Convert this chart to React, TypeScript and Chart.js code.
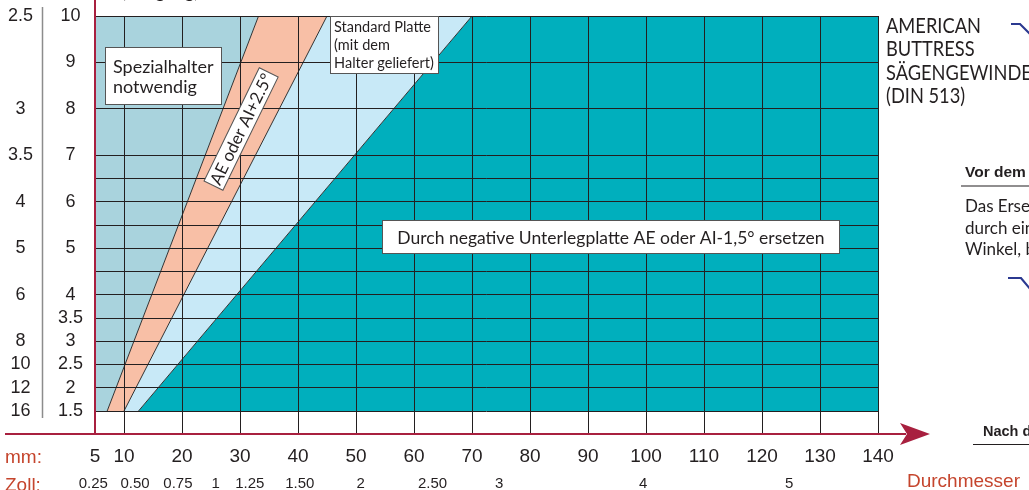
import React, { useEffect, useRef } from 'react';
import { Chart, registerables } from 'chart.js';

Chart.register(...registerables);

// ---------------- data ----------------
// outside diameter (mm) – bottom axis ticks
const diameterTicksMm = [5, 10, 20, 30, 40, 50, 60, 70, 80, 90, 100, 110, 120, 130, 140];
// inch labels and where they sit on the mm axis (as printed)
const zollLabels = ['0.25', '0.50', '0.75', '1', '1.25', '1.50', '2', '2.50', '3', '4', '5'];
const zollLabelAtMm = [4.7, 11.9, 19.3, 25.8, 31.7, 40.3, 50.8, 63.2, 74.7, 99.5, 124.7];
// pitch (mm) grid and labelled pitches
const pitchGrid = [1.5, 2, 2.5, 3, 3.5, 4, 4.5, 5, 5.5, 6, 6.5, 7, 8, 9, 10];
const pitchLabels = [1.5, 2, 2.5, 3, 3.5, 4, 5, 6, 7, 8, 9, 10];
// threads per inch and the pitch they are printed against
const tpiLabels = ['16', '12', '10', '8', '6', '5', '4', '3.5', '3', '2.5'];
const tpiAtPitch = [1.5, 2, 2.5, 3, 4, 5, 6, 7, 8, 10];
// ranges
const pitchSpan = [1.5, 10];
const diameterSpan = [5, 140];
// region boundaries: diameter (mm) at pitch 1.5 and at pitch 10
const spezialEdgeMm = [7.1, 33.2];
const aeEdgeMm = [10, 45];
const standardEdgeMm = [12.5, 70];

const regionNames = ['Spezialhalter notwendig', 'AE oder AI+2.5°', 'Standard Platte', 'Durch negative Unterlegplatte'];
const regionColors = ['#a9d3dd', '#f8bfa6', '#c8e9f7', '#00afbd'];

const INK = '#231f20';
const RED = '#a8203f';
const ORANGE = '#c5452d';
const SANS = '"Liberation Sans", Arial, Helvetica, sans-serif';
const LATO = 'Lato, "Open Sans", sans-serif';

export default function App() {
  const ref = useRef<HTMLCanvasElement>(null);

  useEffect(() => {
    const canvas = ref.current;
    if (!canvas) return;

    const [pLo, pHi] = pitchSpan;
    const [dLo, dHi] = diameterSpan;
    const edges = [spezialEdgeMm, aeEdgeMm, standardEdgeMm];
    const leftBounds = [[dLo, dLo], spezialEdgeMm, aeEdgeMm, standardEdgeMm];
    const rightBounds = [spezialEdgeMm, aeEdgeMm, standardEdgeMm, [dHi, dHi]];

    const regionData = regionNames.map((_, i) => {
      const l = leftBounds[i];
      const r = rightBounds[i];
      return [
        { x: l[0], y: pLo },
        { x: r[0], y: pLo },
        { x: r[1], y: pHi },
        { x: l[1], y: pHi },
        { x: l[0], y: pLo },
      ];
    });

    const datasets: any[] = [
      ...edges.map((e) => ({
        type: 'line',
        data: [
          { x: e[0], y: pLo },
          { x: e[1], y: pHi },
        ],
        borderColor: '#333333',
        borderWidth: 1,
        pointRadius: 0,
        fill: false,
        tension: 0,
      })),
      ...regionData.map((d, i) => ({
        type: 'line',
        label: regionNames[i],
        data: d,
        backgroundColor: regionColors[i],
        borderWidth: 0,
        borderColor: 'rgba(0,0,0,0)',
        pointRadius: 0,
        fill: 'shape',
        tension: 0,
      })),
    ];

    const yMin = pLo - 22 / (395 / (pHi - pLo));

    const overlay = {
      id: 'overlay',
      afterDraw(chart: any) {
        const { ctx, chartArea } = chart;
        const xs = chart.scales.x;
        const ys = chart.scales.y;
        const px = (v: number) => xs.getPixelForValue(v);
        const py = (v: number) => ys.getPixelForValue(v);
        ctx.save();

        const text = (s: string, x: number, y: number, font: string, color: string, align: CanvasTextAlign = 'left') => {
          ctx.font = font;
          ctx.fillStyle = color;
          ctx.textAlign = align;
          ctx.textBaseline = 'alphabetic';
          ctx.fillText(s, x, y);
        };
        const whiteBox = (x0: number, y0: number, x1: number, y1: number) => {
          const l = Math.round(x0) + 0.5;
          const t = Math.round(y0) + 0.5;
          const w = Math.round(x1) - Math.round(x0);
          const h = Math.round(y1) - Math.round(y0);
          ctx.fillStyle = '#ffffff';
          ctx.fillRect(l, t, w, h);
          ctx.strokeStyle = '#555555';
          ctx.lineWidth = 1;
          ctx.strokeRect(l, t, w, h);
        };

        // label boxes
        const notes = [
          { x: [6.72, 26.71], y: [9.34, 8.1], lines: ['Spezialhalter', 'notwendig'], size: 18, padX: 8, base: 26, lh: 20.6, align: 'left' },
          { x: [45.6, 64.14], y: [10, 8.78], lines: ['Standard Platte', '(mit dem', 'Halter geliefert)'], size: 14.5, padX: 3.6, base: 16.3, lh: 18, align: 'left' },
          { x: [54.56, 133.33], y: [5.61, 4.893], lines: ['Durch negative Unterlegplatte AE oder AI-1,5° ersetzen'], size: 17.5, padX: 0, base: 24.3, lh: 0, align: 'center' },
        ];
        notes.forEach((n) => {
          const x0 = px(n.x[0]);
          const x1 = px(n.x[1]);
          const y0 = py(n.y[0]);
          const y1 = py(n.y[1]);
          whiteBox(x0, y0, x1, y1);
          n.lines.forEach((s, i) => {
            const tx = n.align === 'center' ? (x0 + x1) / 2 : x0 + n.padX;
            text(s, tx, y0 + n.base + i * n.lh, `${n.size}px ${LATO}`, INK, n.align as CanvasTextAlign);
          });
        });

        // rotated label inside the salmon band
        ctx.save();
        ctx.translate(px(30.19), py(7.568));
        ctx.rotate((-64 * Math.PI) / 180);
        ctx.fillStyle = '#ffffff';
        ctx.fillRect(-63, -10.5, 126, 21);
        ctx.strokeStyle = '#555555';
        ctx.lineWidth = 1;
        ctx.strokeRect(-63, -10.5, 126, 21);
        text('AE oder AI+2.5°', 0, 6, `17px ${LATO}`, INK, 'center');
        ctx.restore();

        // red axes
        const bottom = chartArea.bottom + 1;
        ctx.strokeStyle = RED;
        ctx.lineWidth = 2;
        ctx.beginPath();
        ctx.moveTo(5, bottom);
        ctx.lineTo(906, bottom);
        ctx.stroke();
        ctx.beginPath();
        ctx.moveTo(chartArea.left, 0);
        ctx.lineTo(chartArea.left, bottom);
        ctx.stroke();
        ctx.fillStyle = RED;
        ctx.beginPath();
        ctx.moveTo(930, bottom);
        ctx.lineTo(900, bottom - 11);
        ctx.lineTo(907, bottom);
        ctx.lineTo(900, bottom + 11);
        ctx.closePath();
        ctx.fill();

        // separator between inch and mm pitch columns
        ctx.strokeStyle = '#8c8c8c';
        ctx.lineWidth = 1.5;
        ctx.beginPath();
        ctx.moveTo(42.5, 7);
        ctx.lineTo(42.5, 418);
        ctx.stroke();

        // axis captions
        text('mm:', 5, 463, `19px ${SANS}`, ORANGE);
        text('Zoll:', 5, 491, `19px ${SANS}`, ORANGE);
        text('Durchmesser', 907, 487, `19px ${SANS}`, ORANGE);
        text('(Steigung)', 199, -2, `18px ${LATO}`, INK, 'right');

        // title block on the right
        ctx.save();
        ctx.translate(886, 0);
        ctx.scale(0.87, 1);
        ['AMERICAN', 'BUTTRESS', 'SÄGENGEWINDE', '(DIN 513)'].forEach((s, i) => {
          text(s, 0, 33 + i * 23.3, `21px ${LATO}`, INK);
        });
        ctx.restore();

        // cut-off neighbouring page content
        text('Vor dem', 965, 177, `bold 15.5px ${SANS}`, INK);
        ctx.strokeStyle = INK;
        ctx.lineWidth = 1.2;
        ctx.beginPath();
        ctx.moveTo(961, 186);
        ctx.lineTo(1029, 186);
        ctx.stroke();
        ['Das Ersetzen', 'durch eine', 'Winkel, be'].forEach((s, i) => {
          text(s, 965, 212 + i * 21.5, `17px ${LATO}`, INK);
        });
        text('Nach dem', 983, 436, `bold 14.5px ${SANS}`, INK);
        ctx.beginPath();
        ctx.moveTo(973, 444.5);
        ctx.lineTo(1029, 444.5);
        ctx.stroke();

        ctx.strokeStyle = '#2b3990';
        ctx.lineWidth = 2.2;
        ctx.beginPath();
        ctx.moveTo(1011, 24);
        ctx.lineTo(1020, 24);
        ctx.lineTo(1031, 35);
        ctx.stroke();
        ctx.beginPath();
        ctx.moveTo(1008, 278);
        ctx.lineTo(1021, 278);
        ctx.lineTo(1031, 290);
        ctx.stroke();

        ctx.restore();
      },
    };

    const noVerticalPadding = (s: any) => {
      s.paddingTop = 0;
      s.paddingBottom = 0;
    };

    const chart = new Chart(canvas, {
      type: 'line',
      data: { datasets },
      plugins: [overlay],
      options: {
        responsive: false,
        animation: false,
        events: [],
        layout: { padding: { left: 0, top: 16, right: 151, bottom: 0 } },
        plugins: {
          legend: { display: false },
          tooltip: { enabled: false },
          title: { display: false },
        },
        scales: {
          x: {
            type: 'linear',
            position: 'bottom',
            weight: 0,
            min: dLo,
            max: dHi,
            afterBuildTicks: (s: any) => {
              s.ticks = diameterTicksMm.map((v) => ({ value: v }));
            },
            afterFit: (s: any) => {
              s.height = 30;
            },
            grid: { color: INK, lineWidth: 1, drawTicks: false, z: 1 },
            border: { display: false },
            ticks: {
              autoSkip: false,
              maxRotation: 0,
              padding: 12,
              color: INK,
              font: { family: SANS, size: 19 },
              callback: (v: any) => String(v),
            },
          },
          x2: {
            type: 'linear',
            position: 'bottom',
            weight: 1,
            min: dLo,
            max: dHi,
            afterBuildTicks: (s: any) => {
              s.ticks = zollLabelAtMm.map((v) => ({ value: v }));
            },
            afterFit: (s: any) => {
              s.height = 27;
            },
            grid: { display: false, drawTicks: false },
            border: { display: false },
            ticks: {
              autoSkip: false,
              maxRotation: 0,
              padding: 12,
              color: INK,
              font: { family: SANS, size: 15 },
              callback: (_v: any, i: number) => zollLabels[i],
            },
          },
          y: {
            type: 'linear',
            position: 'left',
            weight: 0,
            min: yMin,
            max: pHi,
            afterBuildTicks: (s: any) => {
              s.ticks = pitchGrid.map((v) => ({ value: v }));
            },
            afterFit: (s: any) => {
              s.width = 52;
              noVerticalPadding(s);
            },
            grid: { color: INK, lineWidth: 1, drawTicks: false, z: 1 },
            border: { display: false },
            ticks: {
              autoSkip: false,
              crossAlign: 'center',
              padding: 12,
              color: INK,
              font: { family: SANS, size: 18 },
              callback: (v: any) => (pitchLabels.includes(v) ? String(v) : ''),
            },
          },
          yTpi: {
            type: 'linear',
            position: 'left',
            weight: 1,
            min: yMin,
            max: pHi,
            afterBuildTicks: (s: any) => {
              s.ticks = tpiAtPitch.map((v) => ({ value: v }));
            },
            afterFit: (s: any) => {
              s.width = 43;
              noVerticalPadding(s);
            },
            grid: { display: false, drawTicks: false },
            border: { display: false },
            ticks: {
              autoSkip: false,
              crossAlign: 'center',
              padding: 10,
              color: INK,
              font: { family: SANS, size: 18 },
              callback: (_v: any, i: number) => tpiLabels[i],
            },
          },
        },
      } as any,
    });

    let alive = true;
    const fontsApi = (document as any).fonts;
    if (fontsApi) {
      Promise.all([fontsApi.load(`18px ${LATO}`), fontsApi.load(`19px ${SANS}`)])
        .catch(() => null)
        .then(() => {
          if (alive) chart.update('none');
        });
    }
    return () => {
      alive = false;
      chart.destroy();
    };
  }, []);

  return (
    <div style={{ position: 'absolute', left: 0, top: 0, width: 1029, height: 490, background: '#ffffff', overflow: 'hidden' }}>
      <canvas ref={ref} width={1029} height={490} style={{ display: 'block' }} />
    </div>
  );
}
